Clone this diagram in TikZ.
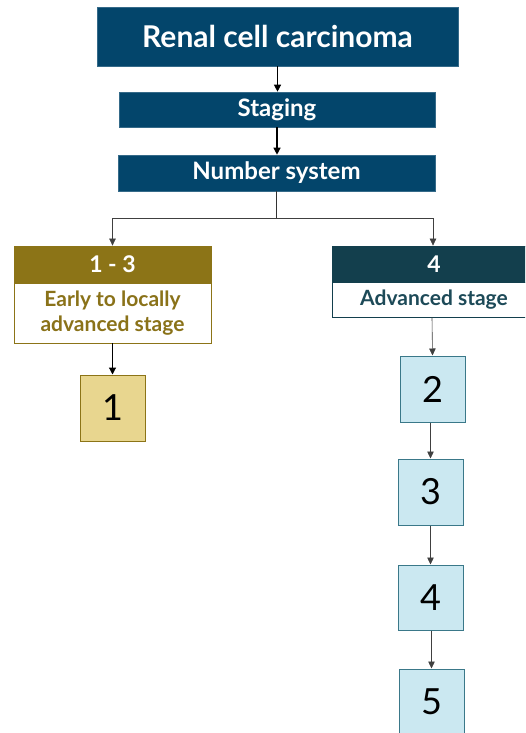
\documentclass[tikz,border=0pt]{standalone}
\usepackage{fontspec}
\setmainfont{Lato}
\usetikzlibrary{arrows.meta}
\definecolor{navy}{HTML}{03456B}
\definecolor{gold}{HTML}{8C7417}
\definecolor{goldtext}{HTML}{8A7219}
\definecolor{goldfill}{HTML}{E8D68F}
\definecolor{teal}{HTML}{133F4D}
\definecolor{tealtext}{HTML}{1D4A58}
\definecolor{bluefill}{HTML}{CBE8F1}
\definecolor{blueedge}{HTML}{3A7889}
\tikzset{
  box/.style={rectangle, inner sep=0pt, align=center},
  navybox/.style={box, fill=navy, draw=navy!80!white, line width=0.6pt, text=white, font=\bfseries},
  goldhead/.style={box, fill=gold, draw=gold, line width=0.8pt, text=white, font=\bfseries\fontsize{23}{25}\selectfont},
  goldbody/.style={box, fill=white, draw=gold, line width=0.9pt, text=goldtext, font=\bfseries\fontsize{21}{25}\selectfont},
  goldnum/.style={box, fill=goldfill, draw=gold, line width=1pt, minimum width=65pt, minimum height=66pt, font=\fontsize{36}{38}\selectfont},
  tealhead/.style={box, fill=teal, draw=teal, line width=0.8pt, text=white, font=\bfseries\fontsize{23}{25}\selectfont},
  tealbody/.style={box, fill=white, draw=teal, line width=0.9pt, text=tealtext, font=\bfseries\fontsize{21}{23}\selectfont},
  bluenum/.style={box, fill=bluefill, draw=blueedge, line width=1pt, minimum width=65pt, minimum height=65pt, font=\fontsize{36}{38}\selectfont},
  arr/.style={-{Triangle[length=7pt,width=7pt]}, line width=1.2pt, black},
  thinarr/.style={-{Triangle[length=7pt,width=6.5pt]}, line width=0.6pt, black!75},
  ln/.style={line width=0.7pt, black!80},
}
\begin{document}
\begin{tikzpicture}[x=1pt,y=-1pt]
\clip (0,0) rectangle (525,733);
\useasboundingbox (0,0) rectangle (525,733);
\fill[white] (0,0) rectangle (525,733);

\node[navybox, minimum width=361pt, minimum height=59pt, font=\bfseries\fontsize{30}{32}\selectfont] (top) at (277.5,36.5) {Renal cell carcinoma};
\node[navybox, minimum width=316pt, minimum height=35pt, font=\bfseries\fontsize{24}{26}\selectfont] (stag) at (277,109.5) {\raisebox{-1.5pt}{Staging}};
\node[navybox, minimum width=317pt, minimum height=36pt, font=\bfseries\fontsize{24}{26}\selectfont] (num) at (276.5,173) {\raisebox{-1.5pt}{Number system}};

\node[goldhead, minimum width=197pt, minimum height=37pt] (lhead) at (112.5,264.5) {\raisebox{-1pt}{1 - 3}};
\node[goldbody, minimum width=197pt, minimum height=60pt] (lbody) at (112.5,313) {Early to locally\\advanced stage};
\node[goldnum] (one) at (112.5,408) {1};

\node[tealhead, minimum width=204pt, minimum height=36pt] (rhead) at (434,264) {\raisebox{-1pt}{4}};
\node[tealbody, minimum width=204pt, minimum height=35pt] (rbody) at (434,299.5) {\raisebox{-1pt}{Advanced stage}};
\node[bluenum, minimum height=66pt] (two) at (432.5,389) {2};
\node[bluenum, minimum height=66pt] (three) at (430.5,492) {3};
\node[bluenum] (four) at (430.5,597.5) {4};
\node[bluenum] (five) at (431.5,701.5) {5};

\coordinate (split) at (276.5,218);

\draw[arr] (top.south) -- (stag.north -| top.south);
\draw[arr] (stag.south) -- (num.north -| stag.south);
\draw[ln] (num.south) -- (split);
\draw[thinarr] (split) -| (lhead.north);
\draw[thinarr] (split) -| ([xshift=-1pt]rhead.north);
\draw[arr] (lbody.south) -- (one.north);
\draw[thinarr] ([xshift=-2pt]rbody.south) -- (two.north);
\draw[thinarr] ([xshift=-2pt]two.south) -- (three.north);
\draw[thinarr] (three.south) -- (four.north);
\draw[thinarr] ([xshift=1pt]four.south) -- (five.north);
\end{tikzpicture}
\end{document}
